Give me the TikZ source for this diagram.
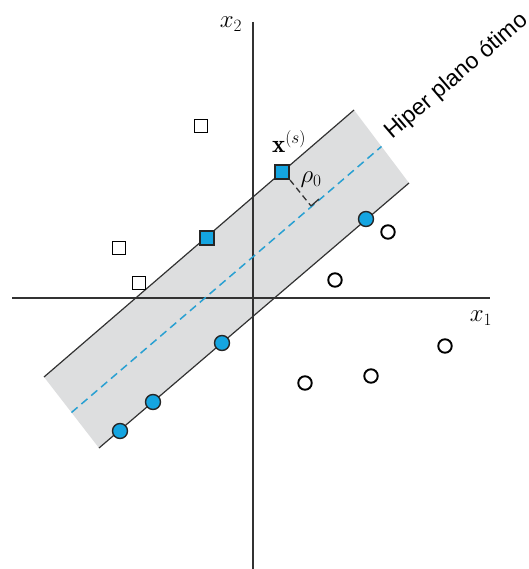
\documentclass[tikz,border=0pt]{standalone}
\usepackage{fontspec}
\newfontfamily\labelfont{Liberation Sans}
\definecolor{ptblue}{RGB}{20,165,225}
\definecolor{dashblue}{RGB}{40,160,210}
\definecolor{bandgray}{RGB}{221,222,223}
\definecolor{axisgray}{RGB}{50,50,50}
\tikzset{
  axisline/.style={draw=axisgray,line width=1.4pt},
  bandline/.style={draw=axisgray,line width=1.2pt},
  opencirc/.style={circle,draw=black,line width=1.9pt,fill=white,minimum size=13.5pt,inner sep=0pt},
  bluecirc/.style={circle,draw=black!85,line width=1.4pt,fill=ptblue,minimum size=15pt,inner sep=0pt},
  opensq/.style={rectangle,draw=black,line width=1.9pt,fill=white,minimum size=13pt,inner sep=0pt},
  bluesq/.style={rectangle,draw=black!85,line width=1.6pt,fill=ptblue,minimum size=14pt,inner sep=0pt},
  mathlabel/.style={font=\fontsize{25}{28}\selectfont,inner sep=0pt}
}
\begin{document}
\begin{tikzpicture}[x=1pt,y=-1pt]
\useasboundingbox (0,0) rectangle (528,569);
% band corners
\coordinate (UL) at (44,377);
\coordinate (UR) at (354,110);
\coordinate (LR) at (409,183);
\coordinate (LL) at (99,448);
\coordinate (CL) at (71.5,412.5);
\coordinate (CR) at (381.5,146.5);
\fill[bandgray] (UL) -- (UR) -- (LR) -- (LL) -- cycle;
% axes
\coordinate (xa) at (12,298);
\coordinate (xb) at (490,298);
\coordinate (ya) at (253,22);
\coordinate (yb) at (253,569);
\draw[axisline] (xa) -- (xb);
\draw[axisline] (ya) -- (yb);
% band edges
\draw[bandline] (UL) -- (UR);
\draw[bandline] (LL) -- (LR);
% optimal hyperplane
\draw[dashblue,line width=1.5pt,dash pattern=on 8pt off 5pt] (CL) -- (CR);
% perpendicular rho_0
\coordinate (pstart) at (290,180);
\coordinate (pfoot) at (311,206);
\coordinate (pmark) at (319,199);
\draw[black!80,line width=1.3pt,dash pattern=on 6pt off 4pt] (pstart) -- (pfoot);
\draw[black!80,line width=1.3pt] (pfoot) -- (pmark);
% open squares
\node[opensq] (s1) at (201,126) {};
\node[opensq] (s2) at (119,248) {};
\node[opensq] (s3) at (139,283) {};
% support squares
\node[bluesq] (b1) at (282,172) {};
\node[bluesq] (b2) at (207,238) {};
% support circles
\node[bluecirc] (c1) at (366,219) {};
\node[bluecirc] (c2) at (222,343) {};
\node[bluecirc] (c3) at (153,402) {};
\node[bluecirc] (c4) at (120,431) {};
% open circles
\node[opencirc] (o1) at (388,232) {};
\node[opencirc] (o2) at (335,280) {};
\node[opencirc] (o3) at (445,346) {};
\node[opencirc] (o4) at (371,376) {};
\node[opencirc] (o5) at (305,383) {};
% labels
\node[mathlabel] (lx2) at (231,24) {$x_2$};
\node[mathlabel] (lx1) at (481,318) {$x_1$};
\node[mathlabel] (lxs) at (289,142) {$\mathbf{x}^{(s)}$};
\node[mathlabel] (lrho) at (311,180) {$\rho_0$};
\node[font=\labelfont\fontsize{23}{25}\selectfont,rotate=40.7,anchor=base west,inner sep=0pt] (hp) at (392,140) {Hiper plano ótimo};
\end{tikzpicture}
\end{document}
